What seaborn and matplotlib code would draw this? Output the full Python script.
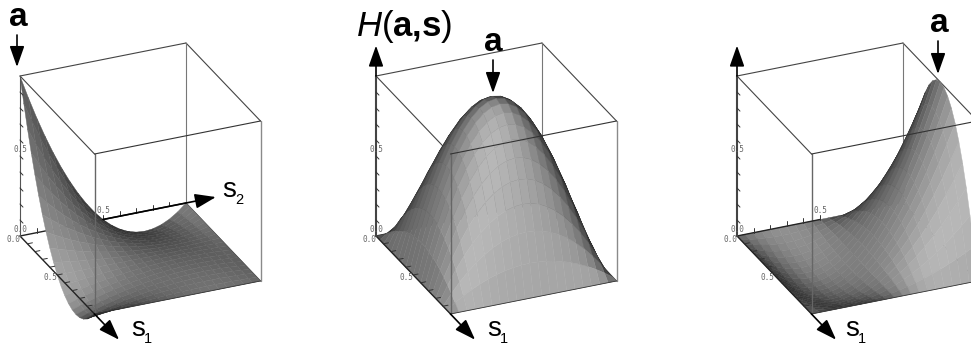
import numpy as np
import matplotlib
matplotlib.use('Agg')
import matplotlib.pyplot as plt
from matplotlib.collections import PolyCollection
import seaborn as sns

# heights read along one side of the cube, every 0.05
s_values = [0.00, 0.05, 0.10, 0.15, 0.20, 0.25, 0.30, 0.35, 0.40, 0.45, 0.50,
            0.55, 0.60, 0.65, 0.70, 0.75, 0.80, 0.85, 0.90, 0.95, 1.00]
start_profile = [1.00, 0.855, 0.72, 0.595, 0.48, 0.375, 0.28, 0.195, 0.12, 0.055, 0.00,
                 -0.045, -0.08, -0.105, -0.12, -0.125, -0.12, -0.105, -0.08, -0.045, 0.00]
middle_profile = [0.00, 0.19, 0.36, 0.51, 0.64, 0.75, 0.84, 0.91, 0.96, 0.99, 1.00,
                  0.99, 0.96, 0.91, 0.84, 0.75, 0.64, 0.51, 0.36, 0.19, 0.00]
end_profile = start_profile[::-1]

z_ticks = [0.1, 0.2, 0.3, 0.4, 0.5, 0.6, 0.7, 0.8, 0.9]
side_ticks = [0.1, 0.2, 0.3, 0.4, 0.5, 0.6, 0.7, 0.8, 0.9]

# cube geometry in pixels
S1_VEC = np.array([74.5, 78.0])
S2_VEC = np.array([166.0, -33.0])
Z_VEC = np.array([0.0, -160.0])
LIGHT = np.array([0.80, -0.42, 0.42])
VIEW = np.array([0.80, -0.36, 0.47])
BOX = '#5a5a5a'

sns.set_theme(style='white')
plt.rcParams['font.family'] = ['Liberation Sans', 'DejaVu Sans']
plt.rcParams['mathtext.fontset'] = 'custom'
plt.rcParams['mathtext.rm'] = 'Liberation Sans'
plt.rcParams['mathtext.it'] = 'Liberation Sans:italic'
plt.rcParams['mathtext.bf'] = 'Liberation Sans:bold'

shades = sns.color_palette('gray', as_cmap=True)


def project(origin, s1, s2, z):
    s1, s2, z = np.asarray(s1), np.asarray(s2), np.asarray(z)
    x = origin[0] + s1 * S1_VEC[0] + s2 * S2_VEC[0] + z * Z_VEC[0]
    y = origin[1] + s1 * S1_VEC[1] + s2 * S2_VEC[1] + z * Z_VEC[1]
    return x, y


def edge(ax, origin, a, b, color=BOX, lw=0.8, zorder=1):
    x, y = project(origin, [a[0], b[0]], [a[1], b[1]], [a[2], b[2]])
    sns.lineplot(x=x, y=y, ax=ax, color=color, lw=lw, sort=False,
                 estimator=None, legend=False, zorder=zorder)


def arrow(ax, start, end, zorder=6):
    ax.annotate('', xy=end, xytext=start, zorder=zorder,
                arrowprops=dict(arrowstyle='-|>,head_length=0.85,head_width=0.3',
                                color='black', lw=1.2, shrinkA=0, shrinkB=0,
                                mutation_scale=15))


def surface(ax, origin, profile_s1, profile_s2):
    s = np.array(s_values)
    height = np.outer(profile_s1, profile_s2)
    d1, d2 = np.gradient(height, s, s)
    polys, depth, light = [], [], []
    for i in range(len(s) - 1):
        for j in range(len(s) - 1):
            ii = [i, i + 1, i + 1, i]
            jj = [j, j, j + 1, j + 1]
            x, y = project(origin, s[ii], s[jj], height[ii, jj])
            polys.append(np.column_stack([x, y]))
            normal = np.array([-d1[ii, jj].mean(), -d2[ii, jj].mean(), 1.0])
            normal /= np.linalg.norm(normal)
            centre = np.array([s[ii].mean(), s[jj].mean(), height[ii, jj].mean()])
            depth.append(centre @ VIEW)
            light.append(0.17 + 0.55 * max(normal @ LIGHT, 0.0))
    order = np.argsort(depth)
    colors = shades(np.clip(np.array(light)[order], 0, 1))
    ax.add_collection(PolyCollection([polys[k] for k in order], facecolors=colors,
                                     edgecolors=colors, linewidths=0.3, zorder=3))


def tick_label(ax, x, y, text):
    ax.text(x, y, text, fontsize=5.5, family='DejaVu Sans Mono', color='#666666',
            ha='center', va='center', zorder=7)


def panel(ax, origin, profile_s1, profile_s2, z_arrow=False, s2_arrow=False, s2_on_top=False):
    # back of the box, hidden by the surface
    edge(ax, origin, (0, 0, 1), (0, 1, 1), color='#444444')
    edge(ax, origin, (0, 0, 1), (1, 0, 1), color='#444444')
    edge(ax, origin, (0, 1, 1), (1, 1, 1), color='#444444')
    edge(ax, origin, (0, 1, 0), (0, 1, 1), color='#777777')
    edge(ax, origin, (0, 1, 0), (1, 1, 0), color='#333333')

    # s2 axis, only the first half shows above the floor in the last panel
    s2_z = 5 if s2_on_top else 2
    s2_end = 0.5 if s2_on_top else 1.0
    edge(ax, origin, (0, 0, 0), (0, s2_end, 0), color='#222222', lw=1.0, zorder=s2_z)
    for t in side_ticks:
        if t <= s2_end:
            edge(ax, origin, (0, t, 0), (0, t, 0.03), color='#333333', lw=0.7, zorder=s2_z)
    tick_x, tick_y = project(origin, 0, 0.5, 0.05)
    if s2_on_top or s2_arrow:
        tick_label(ax, tick_x, tick_y - 1, '0.5')

    surface(ax, origin, profile_s1, profile_s2)

    # front of the box
    edge(ax, origin, (1, 0, 0), (1, 0, 1), color='#666666', lw=1.0, zorder=4)
    edge(ax, origin, (1, 1, 0), (1, 1, 1), color='#8a8a8a', lw=1.0, zorder=4)
    edge(ax, origin, (1, 0, 1), (1, 1, 1), color='#333333', lw=0.8, zorder=4)
    edge(ax, origin, (1, 0, 0), (1, 1, 0), color='#333333', lw=0.6, zorder=4)

    # s1 and height axes
    edge(ax, origin, (0, 0, 0), (1, 0, 0), color='#222222', lw=1.0, zorder=5)
    edge(ax, origin, (0, 0, 0), (0, 0, 1), color='#444444' if z_arrow else '#555555',
         lw=1.5 if z_arrow else 0.8, zorder=5)
    for t in side_ticks:
        edge(ax, origin, (t, 0, 0), (t, 0.03, 0), color='#333333', lw=0.7, zorder=5)
    for t in z_ticks:
        edge(ax, origin, (0, 0, t), (0.04, 0, t), color='#333333', lw=0.7, zorder=5)

    start = project(origin, 1.0, 0, 0)
    end = project(origin, 1.33, 0, 0)
    arrow(ax, (float(start[0]), float(start[1])), (float(end[0]), float(end[1])))
    if z_arrow:
        start = project(origin, 0, 0, 1.0)
        end = project(origin, 0, 0, 1.19)
        arrow(ax, (float(start[0]), float(start[1])), (float(end[0]), float(end[1])))
    if s2_arrow:
        start = project(origin, 0, 0.5, 0)
        end = project(origin, 0, 1.18, 0)
        arrow(ax, (float(start[0]), float(start[1])), (float(end[0]), float(end[1])))

    ox, oy = origin
    tick_label(ax, ox, oy - 7, '0.0')
    tick_label(ax, ox - 7, oy + 3, '0.0')
    tick_label(ax, ox, oy - 87, '0.5')
    tick_label(ax, ox + 30, oy + 41, '0.5')


def symbol(ax, x, y, sub):
    ax.text(x, y, 's', fontsize=20, ha='center', va='baseline', color='black', zorder=8)
    ax.text(x + 10, y + 7, sub, fontsize=10.5, ha='center', va='baseline', color='black', zorder=8)


def bold_a(ax, x, y):
    ax.text(x, y, 'a', fontsize=24, fontweight='bold', ha='center', va='baseline',
            color='black', zorder=8)


fig = plt.figure(figsize=(9.71, 3.45), dpi=100)
ax = fig.add_axes([0, 0, 1, 1])

panel(ax, (20, 236), start_profile, start_profile, s2_arrow=True)
panel(ax, (376, 236), middle_profile, middle_profile, z_arrow=True)
panel(ax, (737, 236), middle_profile, end_profile, z_arrow=True, s2_on_top=True)

symbol(ax, 138, 336, '1')
symbol(ax, 229, 197, '2')
symbol(ax, 494, 336, '1')
symbol(ax, 852, 336, '1')

bold_a(ax, 18, 26)
bold_a(ax, 493, 51)
bold_a(ax, 939, 32)
arrow(ax, (17, 35), (17, 67))
arrow(ax, (493, 60), (493, 93))
arrow(ax, (938, 41), (938, 74))

ax.text(356, 36, r'$\mathit{H}(\mathbf{a{,}s})$', fontsize=25, ha='left',
        va='baseline', color='black', zorder=8)

ax.set_xlim(0, 971)
ax.set_ylim(345, 0)
ax.axis('off')
fig.savefig('out.png', dpi=100, facecolor='white')
plt.close(fig)
